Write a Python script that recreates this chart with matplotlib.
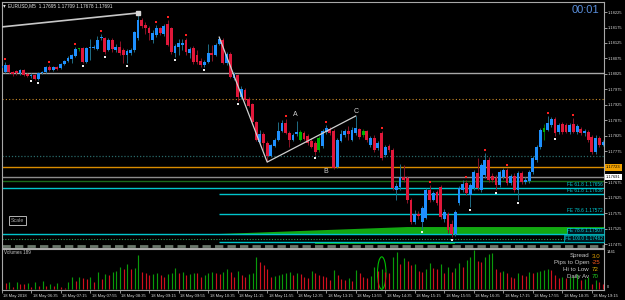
import numpy as np
import matplotlib
matplotlib.use("Agg")
import matplotlib.pyplot as plt
from matplotlib.patches import Polygon, Ellipse

plt.rcParams["font.family"] = ["Liberation Sans", "DejaVu Sans"]

# ---------------- data (prices in points above 1.17000) ----------------
BASE = 1.17
open_pts = [1044,1031,1054,1031,1034,1028,1038,1025,1018,1022,1009,1028,1031,1047,1038,1047,1044,1057,1067,1073,
            1083,1106,1109,1064,1109,1109,1106,1141,1141,1102,1135,1102,1112,1102,1086,1093,1102,1141,1199,1183,
            1173,1135,1151,1173,1154,1186,1173,1093,1112,1119,1135,1093,1109,1086,1067,1054,1064,1093,1086,1122,
            1135,1060,1089,1012,1022,950,973,944,928,870,805,831,802,760,792,811,841,866,834,811,
            831,811,834,824,808,802,779,792,837,847,841,724,808,828,841,811,834,847,828,841,
            795,818,786,834,763,792,779,650,659,692,689,617,546,572,546,559,650,617,643,659,
            556,572,540,507,608,650,672,634,656,705,650,698,747,695,689,666,692,714,672,695,
            650,705,676,679,708,747,789,837,844,860,879,837,863,860,837,863,837,847,834,837,
            821,773,818,795]
high_pts = [1057,1064,1057,1034,1038,1041,1041,1028,1028,1025,1031,1034,1051,1054,1051,1051,1060,1070,1083,1089,
            1112,1109,1112,1112,1138,1119,1148,1154,1144,1141,1141,1122,1131,1109,1106,1109,1164,1222,1206,1193,
            1180,1167,1183,1177,1186,1199,1177,1122,1138,1138,1141,1112,1115,1102,1076,1070,1122,1119,1125,1144,
            1141,1096,1096,1031,1025,986,979,950,931,873,844,837,808,798,818,870,876,879,841,834,
            873,844,841,831,818,808,824,847,860,853,847,818,844,847,857,853,889,850,847,844,
            824,828,808,841,795,798,786,672,734,731,695,624,585,582,598,656,666,647,650,666,
            588,578,553,585,663,682,682,672,714,753,737,769,756,705,698,714,721,721,701,705,
            711,711,692,714,760,795,850,863,889,886,886,866,870,866,866,882,863,853,847,844,
            828,828,824,811]
low_pts = [1038,1028,1028,1018,1022,1022,1018,1015,1012,1005,1005,1025,1028,1034,1034,1038,1041,1054,1064,1060,
           1080,1099,1060,1060,1070,1106,1102,1135,1089,1099,1096,1096,1086,1060,1060,1086,1096,1135,1173,1154,
           1135,1125,1144,1151,1148,1115,1089,1080,1086,1102,1086,1076,1057,1057,1047,1047,1060,1067,1083,1119,
           1057,1054,1012,1005,937,944,937,918,863,808,802,779,740,756,789,808,837,831,789,808,
           824,808,811,795,786,763,773,786,831,828,718,721,805,821,811,808,828,815,821,805,
           789,773,779,747,756,773,650,617,650,676,608,540,540,556,524,556,611,614,601,556,
           546,511,498,501,601,643,634,595,650,650,643,689,676,676,650,659,685,666,666,643,
           617,669,669,672,701,740,782,811,841,853,824,831,831,834,831,834,831,828,824,805,
           766,766,789,792]
close_pts = [1051,1054,1031,1025,1028,1038,1022,1018,1022,1009,1028,1031,1047,1038,1047,1041,1057,1067,1076,1086,
             1106,1106,1064,1109,1112,1112,1135,1144,1096,1135,1106,1112,1093,1086,1099,1102,1161,1199,1180,1173,
             1157,1157,1173,1157,1180,1119,1096,1115,1125,1125,1096,1106,1064,1064,1054,1064,1093,1086,1119,1138,
             1060,1089,1015,1025,950,976,941,921,870,811,831,802,760,795,811,841,866,834,811,828,
             837,837,815,802,789,773,818,841,850,834,721,811,831,841,831,844,850,821,841,811,
             818,779,802,753,789,779,656,663,692,682,617,546,572,566,592,650,617,640,608,562,
             578,520,507,578,656,669,640,666,708,656,731,747,682,682,666,708,714,672,695,650,
             705,676,682,708,753,789,844,850,866,879,834,860,837,837,860,837,857,834,841,811,
             773,818,795,805]
volumes = [222,220,259,74,262,185,180,222,80,259,111,296,118,190,115,225,78,40,260,444,
           300,450,410,370,448,262,630,372,555,520,628,666,814,740,925,742,780,1258,630,594,
           520,560,595,515,444,556,600,776,592,630,518,560,598,590,444,520,592,630,600,555,
           628,740,630,444,666,520,444,555,592,1184,1000,888,740,444,481,518,555,592,629,518,
           592,555,444,407,666,592,518,481,444,333,703,518,370,333,407,296,703,592,444,407,
           481,814,666,740,629,592,1184,1369,925,1147,1036,888,925,666,629,740,962,777,740,925,
           592,814,629,777,962,814,1073,1184,1441,1036,999,1184,1295,1332,740,629,666,592,444,407,
           592,518,481,629,592,629,666,703,740,703,518,407,444,407,444,481,555,333,370,444,
           185,333,259,189]
green_bars = [21, 81, 86, 98, 147]
fractal_up = [1, 13, 20, 27, 42, 45, 50, 77, 88, 103, 116, 126, 131, 137, 148, 155]
fractal_down = [8, 10, 22, 28, 34, 47, 55, 64, 85, 114, 122, 127, 134, 140, 150]
time_labels = ["18 May 2018", "18 May 06:35", "18 May 07:15", "18 May 07:55", "18 May 08:35",
               "18 May 09:15", "18 May 09:55", "18 May 10:35", "18 May 11:15", "18 May 11:55",
               "18 May 12:35", "18 May 13:15", "18 May 13:55", "18 May 14:35", "18 May 15:15",
               "18 May 15:55", "18 May 16:35", "18 May 17:15", "18 May 17:55", "18 May 18:35",
               "18 May 19:15"]
price_ticks = [1.18225, 1.18175, 1.18125, 1.18075, 1.18025, 1.17975, 1.17925, 1.17875, 1.17825,
               1.17775, 1.17675, 1.17625, 1.17575, 1.17525, 1.17475]
trend1 = [(0.14, 1.18177), (37, 1.18222)]
abc_bars = [59, 72, 96]
abc_labels = [("A", 79.5, 1.17895), ("B", 88, 1.17711), ("C", 96, 1.17905)]
gray_level = 1.18028
dotted_orange_level = 1.17944
dotted_teal_level = 1.17761
orange_level = 1.17723
bid_level = 1.17691
green_level = 1.17679
dotted_green_level = 1.17490
fe_levels = [1.17656, 1.17636, 1.17572, 1.17507, 1.17482]
fe_names = ["FE 61.8", "FE 61.8", "FE 78.6", "FE 78.6", "FE 100.0"]
fe_full = [True, False, False, True, False]
fe_boxed = [False, False, False, True, True]
green_zone = [(58, 1.17507), (110, 1.17530), (163.5, 1.17530)]
title = "EURUSD,M5  1.17695 1.17709 1.17678 1.17691"
info_labels = ["Spread", "Pips to Open", "Hi to Low", "Daily Av"]
info_values = ["3.0", "-25", "72", "70"]
vol_ellipse_bar = 103

# ---------------- drawing ----------------
W, H = 625, 300
fig = plt.figure(figsize=(W / 100, H / 100), dpi=100, facecolor="black")
ax = fig.add_axes([2 / W, 1 - 248 / H, 602 / W, 246 / H], facecolor="black")
axv = fig.add_axes([2 / W, 1 - 290 / H, 602 / W, 41 / H], facecolor="black")

o = BASE + np.array(open_pts) / 1e5
h = BASE + np.array(high_pts) / 1e5
l = BASE + np.array(low_pts) / 1e5
c = BASE + np.array(close_pts) / 1e5
idx = np.arange(len(o))
XL = (0.14, 163.28)
YL = (1.174622, 1.182575)

bull = c >= o
body_col = np.where(bull, "#1e90ff", "#e0173a").astype(object)
wick_col = np.where(bull, "#1f6d85", "#8a1426").astype(object)
for g in green_bars:
    body_col[g] = "#00b400"
    wick_col[g] = "#007a00"

ax.vlines(idx, l, h, colors=list(wick_col), lw=0.7, zorder=3)
hgt = np.maximum(np.abs(c - o), 0.000012)
ax.bar(idx, hgt, bottom=np.minimum(o, c), width=0.76, color=list(body_col), linewidth=0, zorder=4)

off = 0.00009
ax.scatter(idx[fractal_up], h[fractal_up] + off, s=1.6, marker="s", color="#ff2020", zorder=5, linewidths=0)
ax.scatter(idx[fractal_down], l[fractal_down] - off, s=1.6, marker="s", color="#f0f0f0", zorder=5, linewidths=0)

# horizontal levels
ax.axhline(gray_level, color="#a8a8a8", lw=1.0, zorder=2)
ax.axhline(dotted_orange_level, color="#c88a2a", lw=0.8, ls=(0, (1, 2)), zorder=2)
ax.axhline(dotted_teal_level, color="#2a6a6a", lw=0.9, ls=(0, (1, 1.5)), zorder=2)
ax.axhline(orange_level, color="#d98c00", lw=1.0, zorder=2)
ax.axhline(bid_level, color="#8c8c8c", lw=1.0, zorder=2)
ax.axhline(green_level, color="#1a6a1a", lw=1.0, zorder=2)
ax.axhline(dotted_green_level, color="#2e9b57", lw=0.8, ls=(0, (1, 1.5)), zorder=2)
ax.axhline(1.174685, color="#6a786c", lw=2.0, ls=(0, (3, 1.5)), zorder=2)

gz = Polygon([(green_zone[0][0], fe_levels[3]), green_zone[0], green_zone[1], green_zone[2],
              (green_zone[2][0], fe_levels[3])], closed=True, fc="#12a812", ec="none", zorder=1)
ax.add_patch(gz)
ax.hlines(fe_levels[4] - 0.00003, 85, 123, colors="#12c012", lw=1.2, zorder=2)

for lev, name, full, boxed in zip(fe_levels, fe_names, fe_full, fe_boxed):
    x0 = XL[0] if full else abc_bars[0]
    ax.hlines(lev, x0, XL[1], colors="#00c4cc", lw=1.0, zorder=2)
    kw = dict(fontsize=3.4, color="#00d0d8", ha="right", va="bottom", zorder=6)
    if boxed:
        kw["bbox"] = dict(boxstyle="square,pad=0.15", fc="#001820", ec="#00c4cc", lw=0.5)
    ax.text(XL[1] - 0.3, lev + 0.00003, f"{name} {lev:.5f}", **kw)

# trend lines and ABC
ax.plot([p[0] for p in trend1], [p[1] for p in trend1], color="#c8c8c8", lw=1.2, zorder=5)
ax.plot([trend1[1][0]], [trend1[1][1]], marker="s", ms=2.5, color="#d8d8d8", zorder=6)
abc_y = [h[abc_bars[0]], l[abc_bars[1]], h[abc_bars[2]]]
ax.plot(abc_bars, abc_y, color="#d0d0d0", lw=0.9, zorder=5)
for t, xx, yy in abc_labels:
    ax.text(xx, yy, t, fontsize=5, color="#d0d0d0", ha="center", va="center", zorder=6)

ax.set_xlim(*XL)
ax.set_ylim(*YL)
ax.set_xticks([])
ax.yaxis.tick_right()
ax.set_yticks(price_ticks)
ax.set_yticklabels([f"{p:.5f}" for p in price_ticks])
ax.tick_params(axis="y", colors="#d8d8d8", labelsize=2.9, length=2, width=0.5, pad=1.0)
for s in ax.spines.values():
    s.set_color("#a8a8a8")
    s.set_linewidth(0.8)

# price boxes on axis
for lev, fc in ((orange_level, "#f0a000"), (bid_level, "white")):
    ax.text(1.003, lev, f"{lev:.5f}", transform=ax.get_yaxis_transform(), fontsize=2.9,
            color="black", ha="left", va="center", clip_on=False,
            bbox=dict(boxstyle="square,pad=0.3", fc=fc, ec="none"))

# volumes
vol = np.array(volumes)
vcol = ["#0a9a0a" if (i == 0 or vol[i] > vol[i - 1]) else "#d0101e" for i in range(len(vol))]
axv.vlines(idx, 0, vol, colors=vcol, lw=0.85)
axv.set_xlim(*XL)
axv.set_ylim(-37, 1480)
axv.set_yticks([])
axv.set_xticks(idx[::8])
axv.set_xticklabels([])
axv.tick_params(axis="x", colors="#c8c8c8", length=2, width=0.5)
for s in axv.spines.values():
    s.set_color("#a8a8a8")
    s.set_linewidth(0.8)
axv.add_patch(Ellipse((vol_ellipse_bar, 590), 2.3, 1200, fc="none", ec="#00c000", lw=0.8))
for i, lab in zip(idx[::8], time_labels):
    axv.text(i + 0.3, -0.1, lab, transform=axv.get_xaxis_transform(), fontsize=3.0,
             color="#d8d8d8", ha="left", va="top", clip_on=False)

fig.text(4 / W, 1 - 252.5 / H, f"Volumes {volumes[-1]}", fontsize=3.3, color="#c8c8c8", ha="left", va="center")
fig.text(607 / W, 1 - 252 / H, f"{max(volumes)}", fontsize=2.9, color="#d8d8d8", ha="left", va="center")
fig.text(607 / W, 1 - 287 / H, "0", fontsize=2.9, color="#d8d8d8", ha="left", va="center")

val_cols = ["#e0a000", "#ff5a1e", "#e6b400", "#20d020"]
for k, (lab, val) in enumerate(zip(info_labels, info_values)):
    yy = 1 - (256 + k * 6.7) / H
    fig.text(589 / W, yy, lab, fontsize=4.4, color="#c8c8c8", ha="right", va="center")
    fig.text(592 / W, yy, val, fontsize=4.4, color=val_cols[k], ha="left", va="center")

# header texts
fig.text(3 / W, 1 - 5.5 / H, "\u25be", fontsize=4, color="#e0e0e0", ha="left", va="center")
fig.text(8 / W, 1 - 5.5 / H, title, fontsize=3.4, color="#e8e8e8", ha="left", va="center")
fig.text(585 / W, 1 - 10 / H, "00:01", fontsize=8, color="#5a8fdc", ha="center", va="center")
fig.text(17.5 / W, 1 - 220.5 / H, "Scale", fontsize=3.8, color="#a0a0a0", ha="center", va="center",
         bbox=dict(boxstyle="square,pad=0.35", fc="black", ec="#d0d0d0", lw=0.6))

fig.savefig("out.png", dpi=100, facecolor="black")
